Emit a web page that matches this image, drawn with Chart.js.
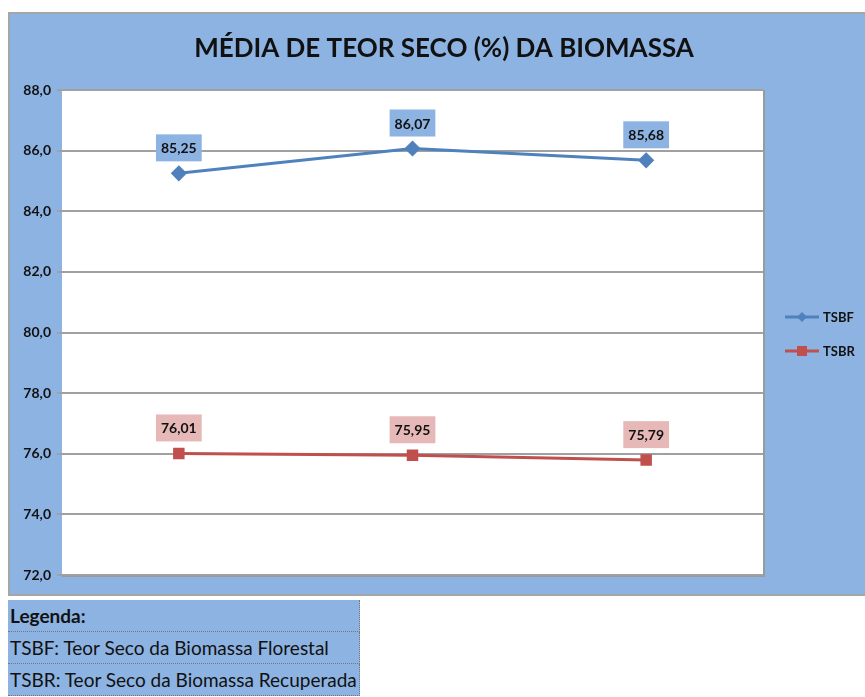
<!DOCTYPE html>
<html>
<head>
<meta charset="utf-8">
<script src="https://cdn.jsdelivr.net/npm/chart.js@4.4.1/dist/chart.umd.min.js"></script>
<style>
  body { margin: 0; background: #fff; font-family: Lato, sans-serif; }
  .chart-box {
    position: absolute; left: 8px; top: 12px; width: 857px; height: 584px;
    background: #8db3e2; border-top: 2px solid #a6a6a6; border-left: 2px solid #a6a6a6;
    border-bottom: 2px solid #a6a6a6; box-sizing: border-box;
  }
  .legend-table {
    position: absolute; left: 8px; top: 600px; width: 345px;
    border-collapse: collapse; background: #8db3e2;
  }
  .legend-table td {
    font-size: 19px; color: #111; padding: 0 2px; height: 31px;
    border-bottom: 1px dotted #777; border-right: 1px dotted #777;
    white-space: nowrap;
  }
  .legend-table tr:first-child td { font-weight: bold; }
</style>
</head>
<body>
<div class="chart-box"><canvas id="teorChart"></canvas></div>
<table class="legend-table">
  <tr><td>Legenda:</td></tr>
  <tr><td>TSBF: Teor Seco da Biomassa Florestal</td></tr>
  <tr><td>TSBR: Teor Seco da Biomassa Recuperada</td></tr>
</table>
<script>
// Dados
const categorias = ['1', '2', '3'];
const tsbf = [85.25, 86.07, 85.68];
const tsbr = [76.01, 75.95, 75.79];
const titulo = 'MÉDIA DE TEOR SECO (%) DA BIOMASSA';

const fmt = v => v.toFixed(2).replace('.', ',');

// Title, legend and value boxes drawn by hand
const extras = {
    id: 'extras',
    afterDraw(chart) {
        const { ctx } = chart;
        ctx.save();
        ctx.fillStyle = '#111';
        ctx.font = 'bold 26px Lato';
        ctx.textAlign = 'center';
        ctx.textBaseline = 'middle';
        ctx.fillText(titulo, 434, 35);

        // value boxes
        chart.data.datasets.forEach((ds, i) => {
            const meta = chart.getDatasetMeta(i);
            meta.data.forEach((pt, j) => {
                const txt = fmt(ds.data[j]);
                ctx.font = 'bold 14px Lato';
                const w = ctx.measureText(txt).width + 10;
                const h = 27;
                ctx.fillStyle = ds.labelBg;
                ctx.fillRect(pt.x - w / 2, pt.y - 12 - h, w, h);
                ctx.fillStyle = '#111';
                ctx.fillText(txt, pt.x, pt.y - 12 - h / 2 + 1);
            });
        });

        // legend on the right
        chart.data.datasets.forEach((ds, i) => {
            const y = 303 + i * 34;
            const x = 775;
            ctx.strokeStyle = ds.borderColor;
            ctx.lineWidth = 3;
            ctx.beginPath();
            ctx.moveTo(x, y);
            ctx.lineTo(x + 34, y);
            ctx.stroke();
            ctx.fillStyle = ds.borderColor;
            if (ds.pointStyle === 'rectRot') {
                ctx.beginPath();
                ctx.moveTo(x + 17, y - 5);
                ctx.lineTo(x + 22, y);
                ctx.lineTo(x + 17, y + 5);
                ctx.lineTo(x + 12, y);
                ctx.closePath();
                ctx.fill();
            } else {
                ctx.fillRect(x + 12, y - 5, 10, 10);
            }
            ctx.fillStyle = '#111';
            ctx.font = 'bold 13px Lato';
            ctx.textAlign = 'left';
            ctx.fillText(ds.label, x + 38, y + 1);
            ctx.textAlign = 'center';
        });
        ctx.restore();
    }
};

const plotBg = {
    id: 'plotBg',
    beforeDraw(chart) {
        const { ctx, chartArea: a } = chart;
        ctx.save();
        ctx.fillStyle = '#fff';
        ctx.fillRect(a.left, a.top, a.right - a.left, a.bottom - a.top);
        ctx.strokeStyle = '#9a9a9a';
        ctx.lineWidth = 2;
        ctx.beginPath();
        ctx.moveTo(a.left, a.bottom + 1);
        ctx.lineTo(a.right + 1, a.bottom + 1);
        ctx.lineTo(a.right + 1, a.top);
        ctx.stroke();
        ctx.restore();
    }
};

const initializeChart = () => {
    const ctx = document.getElementById('teorChart').getContext('2d');
    new Chart(ctx, {
        type: 'line',
        data: {
            labels: categorias,
            datasets: [{
                label: 'TSBF',
                data: tsbf,
                borderColor: '#4f81bd',
                backgroundColor: '#4f81bd',
                labelBg: '#8db3e2',
                borderWidth: 3,
                pointStyle: 'rectRot',
                pointRadius: 6,
                tension: 0
            }, {
                label: 'TSBR',
                data: tsbr,
                borderColor: '#c0504d',
                backgroundColor: '#c0504d',
                labelBg: '#e6b9b8',
                borderWidth: 3,
                pointStyle: 'rect',
                pointRadius: 6,
                tension: 0
            }]
        },
        options: {
            responsive: true,
            maintainAspectRatio: false,
            animation: false,
            layout: { padding: { top: 76, right: 102, bottom: 19, left: 0 } },
            plugins: {
                legend: { display: false },
                title: { display: false },
                tooltip: { enabled: false }
            },
            scales: {
                x: {
                    offset: true,
                    display: false
                },
                y: {
                    min: 72,
                    max: 88,
                    afterFit: s => { s.width = 52; },
                    ticks: {
                        stepSize: 2,
                        padding: 6,
                        color: '#111',
                        font: { family: 'Lato', size: 14, weight: 'bold' },
                        callback: v => v.toFixed(1).replace('.', ',')
                    },
                    grid: { color: '#a0a0a0', lineWidth: 2, tickLength: 5, drawTicks: true },
                    border: { display: false }
                }
            }
        },
        plugins: [plotBg, extras]
    });
};

document.addEventListener('DOMContentLoaded', initializeChart);
</script>
</body>
</html>
